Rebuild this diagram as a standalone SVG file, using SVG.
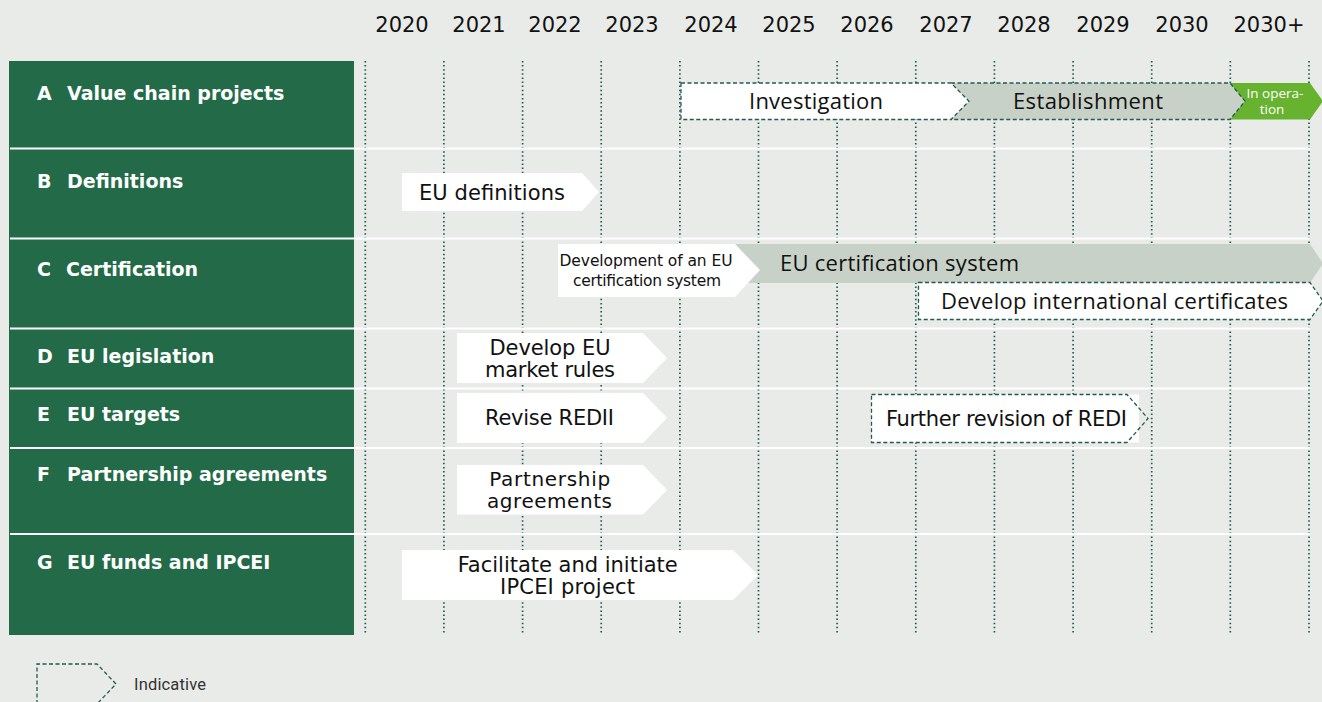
<svg xmlns="http://www.w3.org/2000/svg" width="1322" height="702" viewBox="0 0 1322 702">
<defs>
<style>
.bg{fill:#e9ebe8}
.panel{fill:#236b48}
.sep{stroke:#ffffff;stroke-width:2}
.grid{stroke:#1e5d50;stroke-width:1.7;stroke-dasharray:1.5 2.6;fill:none}
.yr{font-family:"DejaVu Sans",sans-serif;font-size:21px;fill:#111111;text-anchor:middle}
.lbl{font-family:"DejaVu Sans",sans-serif;font-weight:bold;font-size:19px;fill:#ffffff}
.m{font-family:"DejaVu Sans",sans-serif;font-size:21px;fill:#111111;text-anchor:middle}
.s{font-family:"Open Sans",sans-serif;font-size:22px;fill:#111111;text-anchor:middle}
.op{font-family:"Open Sans",sans-serif;font-size:13.5px;fill:#ffffff;text-anchor:middle}
.wf{fill:#ffffff}
.gf{fill:#c8d1c7}
.lg{fill:#67b22f}
.dash{fill:none;stroke:#24594f;stroke-width:1.3;stroke-dasharray:4 2.5}
</style>
</defs>
<rect class="bg" x="0" y="0" width="1322" height="702"/>

<g id="years">
<text class="yr" x="402" y="32">2020</text>
<text class="yr" x="479" y="32">2021</text>
<text class="yr" x="555" y="32">2022</text>
<text class="yr" x="632" y="32">2023</text>
<text class="yr" x="711" y="32">2024</text>
<text class="yr" x="789" y="32">2025</text>
<text class="yr" x="867" y="32">2026</text>
<text class="yr" x="946" y="32">2027</text>
<text class="yr" x="1024" y="32">2028</text>
<text class="yr" x="1103" y="32">2029</text>
<text class="yr" x="1182" y="32">2030</text>
<text class="yr" x="1269" y="32">2030+</text>
</g>

<rect class="panel" x="9" y="61" width="345" height="574"/>

<g id="grid">
<line class="grid" x1="365.3" y1="61" x2="365.3" y2="635"/>
<line class="grid" x1="443.9" y1="61" x2="443.9" y2="635"/>
<line class="grid" x1="522.6" y1="61" x2="522.6" y2="635"/>
<line class="grid" x1="601.2" y1="61" x2="601.2" y2="635"/>
<line class="grid" x1="679.9" y1="61" x2="679.9" y2="635"/>
<line class="grid" x1="758.5" y1="61" x2="758.5" y2="635"/>
<line class="grid" x1="837.1" y1="61" x2="837.1" y2="635"/>
<line class="grid" x1="915.8" y1="61" x2="915.8" y2="635"/>
<line class="grid" x1="994.4" y1="61" x2="994.4" y2="635"/>
<line class="grid" x1="1073.1" y1="61" x2="1073.1" y2="635"/>
<line class="grid" x1="1151.7" y1="61" x2="1151.7" y2="635"/>
<line class="grid" x1="1230.3" y1="61" x2="1230.3" y2="635"/>
<line class="grid" x1="1309" y1="61" x2="1309" y2="635"/>
</g>

<g id="separators">
<line class="sep" x1="10" y1="148.5" x2="1310" y2="148.5"/>
<line class="sep" x1="10" y1="238.5" x2="1310" y2="238.5"/>
<line class="sep" x1="10" y1="328.5" x2="1310" y2="328.5"/>
<line class="sep" x1="10" y1="388.5" x2="1310" y2="388.5"/>
<line class="sep" x1="10" y1="448" x2="1310" y2="448"/>
<line class="sep" x1="10" y1="534" x2="1310" y2="534"/>
</g>

<g id="row-labels">
<g id="label-A"><text class="lbl" x="37" y="100">A</text><text class="lbl" x="67" y="100">Value chain projects</text></g>
<g id="label-B"><text class="lbl" x="37" y="188">B</text><text class="lbl" x="67" y="188">Definitions</text></g>
<g id="label-C"><text class="lbl" x="37" y="276">C</text><text class="lbl" x="66" y="276">Certification</text></g>
<g id="label-D"><text class="lbl" x="37" y="363">D</text><text class="lbl" x="67" y="363">EU legislation</text></g>
<g id="label-E"><text class="lbl" x="37" y="421">E</text><text class="lbl" x="67" y="421">EU targets</text></g>
<g id="label-F"><text class="lbl" x="37" y="481">F</text><text class="lbl" x="67" y="481">Partnership agreements</text></g>
<g id="label-G"><text class="lbl" x="37" y="569">G</text><text class="lbl" x="67" y="569">EU funds and IPCEI</text></g>
</g>

<g id="in-operation">
<polygon class="lg" points="1230,83 1310,83 1323,101.2 1310,119.5 1230,119.5"/>
<text class="op" x="1275" y="98">In opera-</text>
<text class="op" x="1272" y="114">tion</text>
</g>
<g id="establishment">
<polygon class="gf" points="945,83 1230,83 1245,101.2 1230,119.5 945,119.5"/>
<polyline class="dash" points="951,83 1230,83 1245,101.2 1230,119.5 951,119.5"/>
<text class="s" x="1088" y="109" textLength="150">Establishment</text>
</g>
<g id="investigation">
<polygon class="wf" points="681,83 951,83 969,101.2 951,119.5 681,119.5"/>
<polygon class="dash" points="681,83 951,83 969,101.2 951,119.5 681,119.5"/>
<text class="s" x="816" y="109" textLength="134">Investigation</text>
</g>

<g id="eu-definitions">
<polygon class="wf" points="402,173 582,173 599,192 582,211 402,211"/>
<text class="m" x="492" y="200" textLength="146">EU definitions</text>
</g>

<g id="eu-certification-system">
<polygon class="gf" points="700,244 1310,244 1323,263.5 1310,283 700,283"/>
<text x="780" y="271" style="font-family:'Open Sans',sans-serif;font-size:22px;fill:#111111" textLength="239">EU certification system</text>
</g>
<g id="development-certification">
<polygon class="wf" points="558,244 735,244 760,270 735,297 558,297"/>
<text x="646" y="266" style="font-family:'DejaVu Sans',sans-serif;font-size:15.5px;fill:#111111;text-anchor:middle" textLength="173">Development of an EU</text>
<text x="647" y="286" style="font-family:'DejaVu Sans',sans-serif;font-size:15.5px;fill:#111111;text-anchor:middle" textLength="148">certification system</text>
</g>
<g id="international-certificates">
<polygon class="wf" points="918.5,282.5 1310,282.5 1323,301 1310,319.5 918.5,319.5"/>
<polygon class="dash" points="918.5,282.5 1310,282.5 1323,301 1310,319.5 918.5,319.5"/>
<text class="s" x="1114.5" y="309" textLength="347">Develop international certificates</text>
</g>

<g id="market-rules">
<polygon class="wf" points="457,333 643,333 667,358 643,383 457,383"/>
<text class="m" x="550" y="355" textLength="121">Develop EU</text>
<text class="m" x="550" y="377" textLength="130">market rules</text>
</g>

<g id="revise-redii">
<polygon class="wf" points="457,393 643,393 667,418 643,443 457,443"/>
<text class="m" x="549.5" y="425" textLength="129">Revise REDII</text>
</g>

<g id="further-revision">
<rect class="wf" x="871.5" y="394.5" width="267.5" height="48"/>
<polygon class="dash" points="871.5,394.5 1127,394.5 1148,418.5 1127,442.5 871.5,442.5"/>
<text class="m" x="1006.5" y="426" textLength="241">Further revision of REDI</text>
</g>

<g id="partnership">
<polygon class="wf" points="457,465 643,465 667,490 643,514.5 457,514.5"/>
<text class="m" x="549.7" y="485.5" style="font-size:20px" textLength="121">Partnership</text>
<text class="m" x="549.5" y="508" style="font-size:20px" textLength="125">agreements</text>
</g>

<g id="ipcei">
<polygon class="wf" points="402,550 733,550 758,575 733,600 402,600"/>
<text class="m" x="567.7" y="572" textLength="220">Facilitate and initiate</text>
<text class="m" x="567.5" y="594" textLength="135">IPCEI project</text>
</g>

<g id="legend">
<polyline class="dash" points="37,704 37,664 97,664 116,684 97,704"/>
<text x="134" y="690" style="font-family:Roboto,sans-serif;font-size:16.5px;fill:#333333" textLength="72">Indicative</text>
</g>
</svg>
